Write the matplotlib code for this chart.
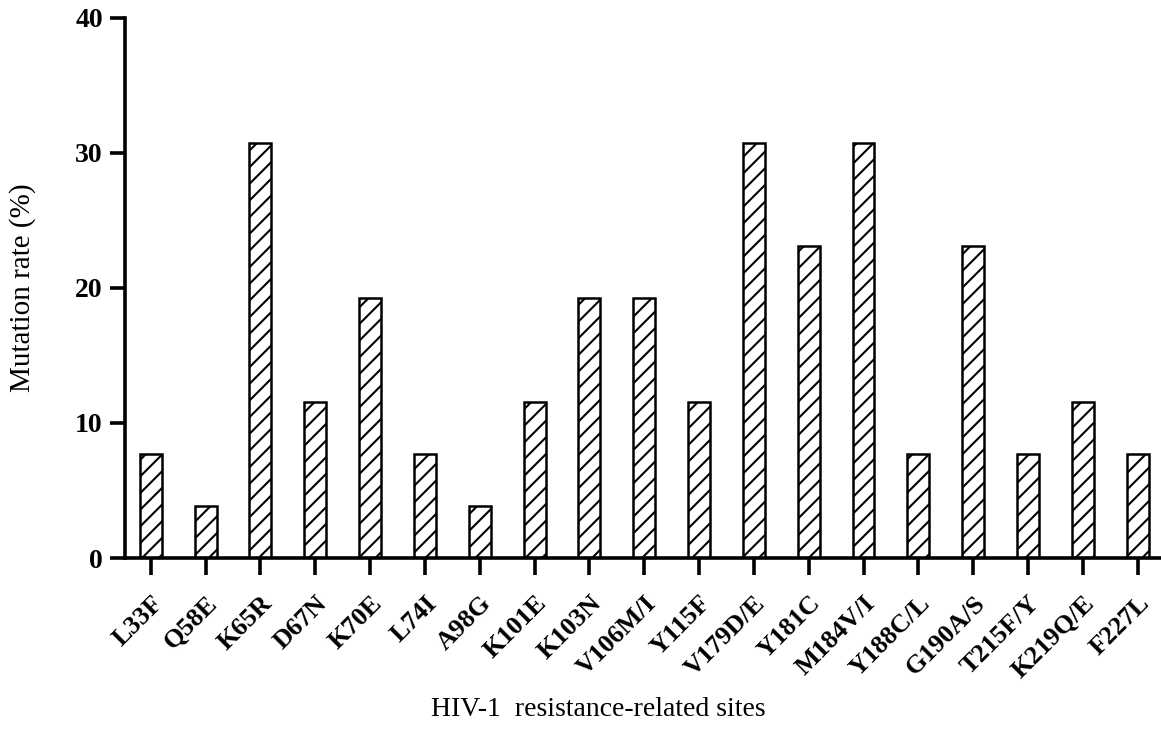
import numpy as np
import matplotlib.pyplot as plt

sites = ["L33F", "Q58E", "K65R", "D67N", "K70E", "L74I", "A98G", "K101E", "K103N",
         "V106M/I", "Y115F", "V179D/E", "Y181C", "M184V/I", "Y188C/L", "G190A/S",
         "T215F/Y", "K219Q/E", "F227L"]
rates = [7.69, 3.85, 30.77, 11.54, 19.23, 7.69, 3.85, 11.54, 19.23,
         19.23, 11.54, 30.77, 23.08, 30.77, 7.69, 23.08,
         7.69, 11.54, 7.69]

plt.rcParams['font.family'] = ['Liberation Serif', 'DejaVu Serif']
plt.rcParams['hatch.linewidth'] = 1.5

fig = plt.figure(figsize=(11.61, 7.47), dpi=100)
ax = fig.add_axes([0.1077, 0.253, 0.892, 0.723])

x = np.arange(len(sites))
ax.bar(x, rates, width=0.4, color='white', edgecolor='black', linewidth=1.8, hatch='//')

ax.set_xlim(-0.47, len(sites) - 1 + 0.42)
ax.set_ylim(0, 40)
ax.set_yticks([0, 10, 20, 30, 40])
ax.set_xticks(x)
ax.set_xticklabels(sites, rotation=45, ha='right', rotation_mode='anchor',
                   fontsize=19, fontweight='bold')
for lab in ax.get_yticklabels():
    lab.set_fontweight('bold')
    lab.set_fontsize(20)

ax.spines['top'].set_visible(False)
ax.spines['right'].set_visible(False)
ax.spines['left'].set_linewidth(2.6)
ax.spines['bottom'].set_linewidth(2.6)
ax.tick_params(axis='y', length=11, width=2.6, pad=5)
ax.tick_params(axis='x', length=12, width=2.6, pad=12)

ax.set_ylabel("Mutation rate (%)", fontsize=21)
ax.yaxis.set_label_coords(-0.086, 0.5)
ax.set_xlabel("HIV-1  resistance-related sites", fontsize=20)
ax.xaxis.set_label_coords(0.457, -0.257)

plt.savefig("out.png", dpi=100)
